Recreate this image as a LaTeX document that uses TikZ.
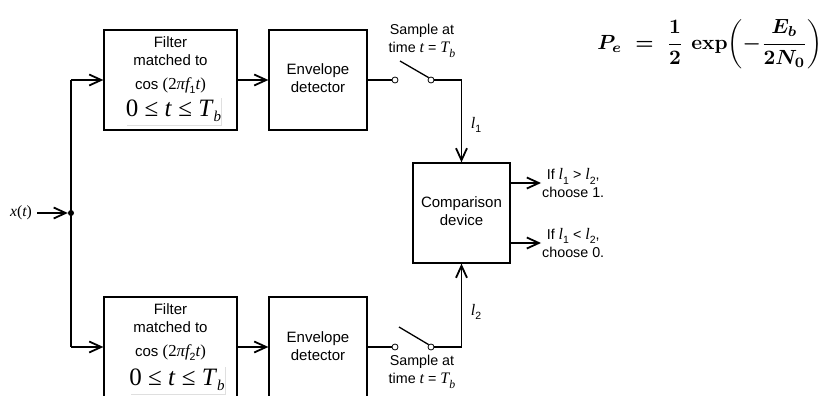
\documentclass[tikz,border=0pt]{standalone}
\usepackage{amsmath}
\usepackage[no-math]{fontspec}
\setmainfont{Liberation Sans}
\newfontfamily\tnr[Scale=1.12]{Liberation Serif}
\newfontfamily\tnrr{Liberation Serif}
\usetikzlibrary{arrows.meta,shadows}
\newcommand\tbrange{{\tnrr\fontsize{25}{25}\selectfont 0 ≤ \textit{t} ≤ \textit{T}\raisebox{-0.22em}{\fontsize{15}{15}\selectfont\itshape b}}}
\newcommand\mi[1]{{\tnr\itshape #1}}
\newcommand\sub[1]{\raisebox{-0.3em}{\fontsize{10.5}{10.5}\selectfont #1}}
\begin{document}
\begin{tikzpicture}[x=1pt,y=-1pt,
  fbox/.style={draw, line width=1.3pt, minimum width=133pt, minimum height=100pt, inner sep=0pt},
  ebox/.style={draw, line width=1.3pt, minimum width=98pt, minimum height=100pt, inner sep=0pt},
  wire/.style={line width=1.8pt},
  arr/.style={line width=1.8pt, -{Straight Barb[length=12pt,width=11pt]}},
  lbl/.style={align=center, inner sep=0pt, font=\fontsize{15}{18}\selectfont},
  slbl/.style={align=center, inner sep=0pt, font=\fontsize{14.3}{18}\selectfont},
  tbox/.style={fill=white, inner sep=0pt, minimum width=83pt, minimum height=28pt,
     drop shadow={opacity=0.25, shadow xshift=1.2pt, shadow yshift=-1.2pt}},
  pin/.style={circle, draw, fill=white, minimum size=6pt, inner sep=0pt, line width=0.8pt},
  dot/.style={circle, fill=black, minimum size=6pt, inner sep=0pt}
]
\fontsize{14.5}{18}\selectfont
\useasboundingbox (0,0) rectangle (823,396);
\clip (0,0) rectangle (823,396);

% boxes
\node[fbox] (f1) at (170.5,80) {};
\node[ebox] (e1) at (318,80) {};
\node[fbox] (f2) at (170.5,347) {};
\node[ebox] (e2) at (318,347) {};
\node[draw, line width=1.3pt, minimum width=97pt, minimum height=100pt, inner sep=0pt] (cmp) at (461.5,213) {};

% box texts
\node[lbl] (f1t) at (170.5,65) {Filter\\matched to\\[6pt]cos {\tnr(2}\mi{πf}\sub{1}\mi{t}{\tnr)}};
\node[tbox] (f1r) at (173.5,111) {\tbrange};
\node[lbl] (f2t) at (170.5,332) {Filter\\matched to\\[6pt]cos {\tnr(2}\mi{πf}\sub{2}\mi{t}{\tnr)}};
\node[tbox] (f2r) at (177,380) {\tbrange};
\node[lbl] (e1t) at (318,78) {Envelope\\detector};
\node[lbl] (e2t) at (318,346) {Envelope\\detector};
\node[lbl] (cmpt) at (461.5,211.5) {Comparison\\device};

% input
\node[inner sep=0pt] (x) at (21,213) {\fontsize{14}{14}\selectfont\mi{x}{\tnr(}\mi{t}{\tnr)}};
\node[dot] (j) at (71,213) {};
\coordinate (xin) at (37,213);
\draw[arr] (xin) -- (j.west);
\coordinate (top) at (71,80);
\coordinate (bot) at (71,347);
\draw[wire] (top) -- (bot);
\draw[arr] (top) -- (f1.west);
\draw[arr] (bot) -- (f2.west);
\draw[arr] (f1.east) -- (e1.west);
\draw[arr] (f2.east) -- (e2.west);

% top switch
\node[pin] (s1a) at (395,80) {};
\node[pin] (s1b) at (431,80) {};
\coordinate (s1l) at (400,61);
\draw[wire] (e1.east) -- (s1a.west);
\draw[line width=1.3pt] (s1l) -- (s1b.north west);
\draw[arr] (s1b.east) -| (cmp.north);
\node[slbl] (smp1) at (422,41) {Sample at\\time \mi{t} = \mi{T}\sub{\mi{b}}};
\node[slbl] (l1) at (476,125) {\mi{l}\sub{1}};

% bottom switch
\node[pin] (s2a) at (395,347) {};
\node[pin] (s2b) at (431,347) {};
\coordinate (s2l) at (399,327);
\draw[wire] (e2.east) -- (s2a.west);
\draw[line width=1.3pt] (s2l) -- (s2b.north west);
\draw[arr] (s2b.east) -| (cmp.south);
\node[slbl] (smp2) at (422,372) {Sample at\\time \mi{t} = \mi{T}\sub{\mi{b}}};
\node[slbl] (l2) at (476,312) {\mi{l}\sub{2}};

% outputs
\coordinate (o1) at (541,183);
\coordinate (o2) at (541,243);
\draw[arr] (cmp.east |- o1) -- (o1);
\draw[arr] (cmp.east |- o2) -- (o2);
\node[slbl, anchor=west] (d1) at (542,183.5) {If \mi{l}\sub{1} > \mi{l}\sub{2},\\choose 1.};
\node[slbl, anchor=west] (d2) at (542,243) {If \mi{l}\sub{1} < \mi{l}\sub{2},\\choose 0.};

% formula
\node[inner sep=0pt] (pe) at (710,44) {\fontsize{10}{12}\selectfont\scalebox{2.05}{\boldmath$\displaystyle P_e \;=\; \frac{1}{2}\,\exp\!\left(-\frac{E_b}{2N_0}\right)$}};
\end{tikzpicture}
\end{document}
